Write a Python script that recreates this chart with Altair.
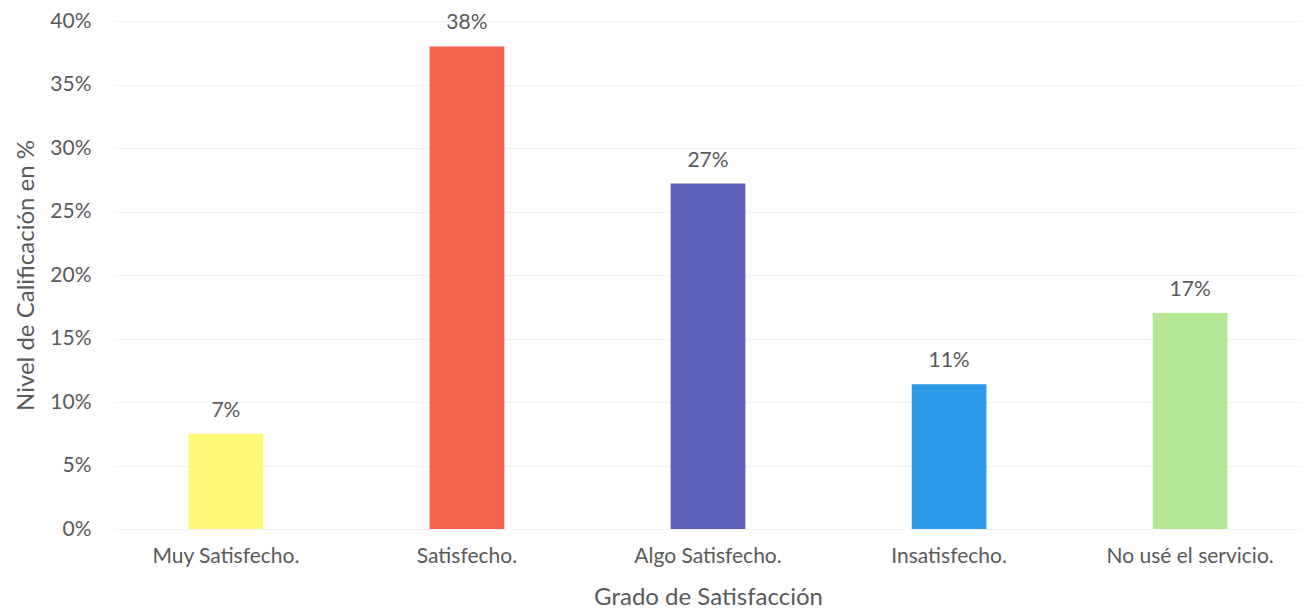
import altair as alt
import pandas as pd

categories = ["Muy Satisfecho.", "Satisfecho.", "Algo Satisfecho.", "Insatisfecho.", "No usé el servicio."]
values = [0.075, 0.38, 0.272, 0.114, 0.170]
labels = ["7%", "38%", "27%", "11%", "17%"]
colors = ["#FEF876", "#F7614F", "#5C5FB7", "#2E9BEA", "#B5E894"]

df = pd.DataFrame({"cat": categories, "val": values, "lab": labels, "col": colors})

FONT = "Lato"
GRAY = "#595959"

x = alt.X("cat:N", sort=categories,
          scale=alt.Scale(paddingInner=0.69, paddingOuter=0.305),
          axis=alt.Axis(title="Grado de Satisfacción", labelAngle=0, domain=False, ticks=False, grid=False,
                        labelFontSize=21, labelColor=GRAY, labelFont=FONT, labelPadding=16,
                        titleFontSize=24, titleColor=GRAY, titleFont=FONT, titleFontWeight="normal",
                        titlePadding=19))
y = alt.Y("val:Q", scale=alt.Scale(domain=[0, 0.4], nice=False),
          axis=alt.Axis(title="Nivel de Calificación en %", format=".0%", values=[i / 100 for i in range(0, 41, 5)],
                        domain=False, ticks=False, gridColor="#F3F3F3", gridWidth=1,
                        labelFontSize=21, labelColor=GRAY, labelFont=FONT, labelPadding=24,
                        titleFontSize=24, titleColor=GRAY, titleFont=FONT, titleFontWeight="normal",
                        titlePadding=11))

bars = alt.Chart(df).mark_bar().encode(x=x, y=y, color=alt.Color("col:N", scale=None))
text = alt.Chart(df).mark_text(dy=-23, fontSize=21, color=GRAY, font=FONT).encode(
    x=alt.X("cat:N", sort=categories), y="val:Q", text="lab:N")

chart = (bars + text).properties(width=1186, height=508, background="white",
                                 padding={"left": 6, "top": 2, "right": 0, "bottom": 0}) \
    .configure_view(stroke=None)

chart.save("out.html", embed_options={"renderer": "svg", "actions": False})
